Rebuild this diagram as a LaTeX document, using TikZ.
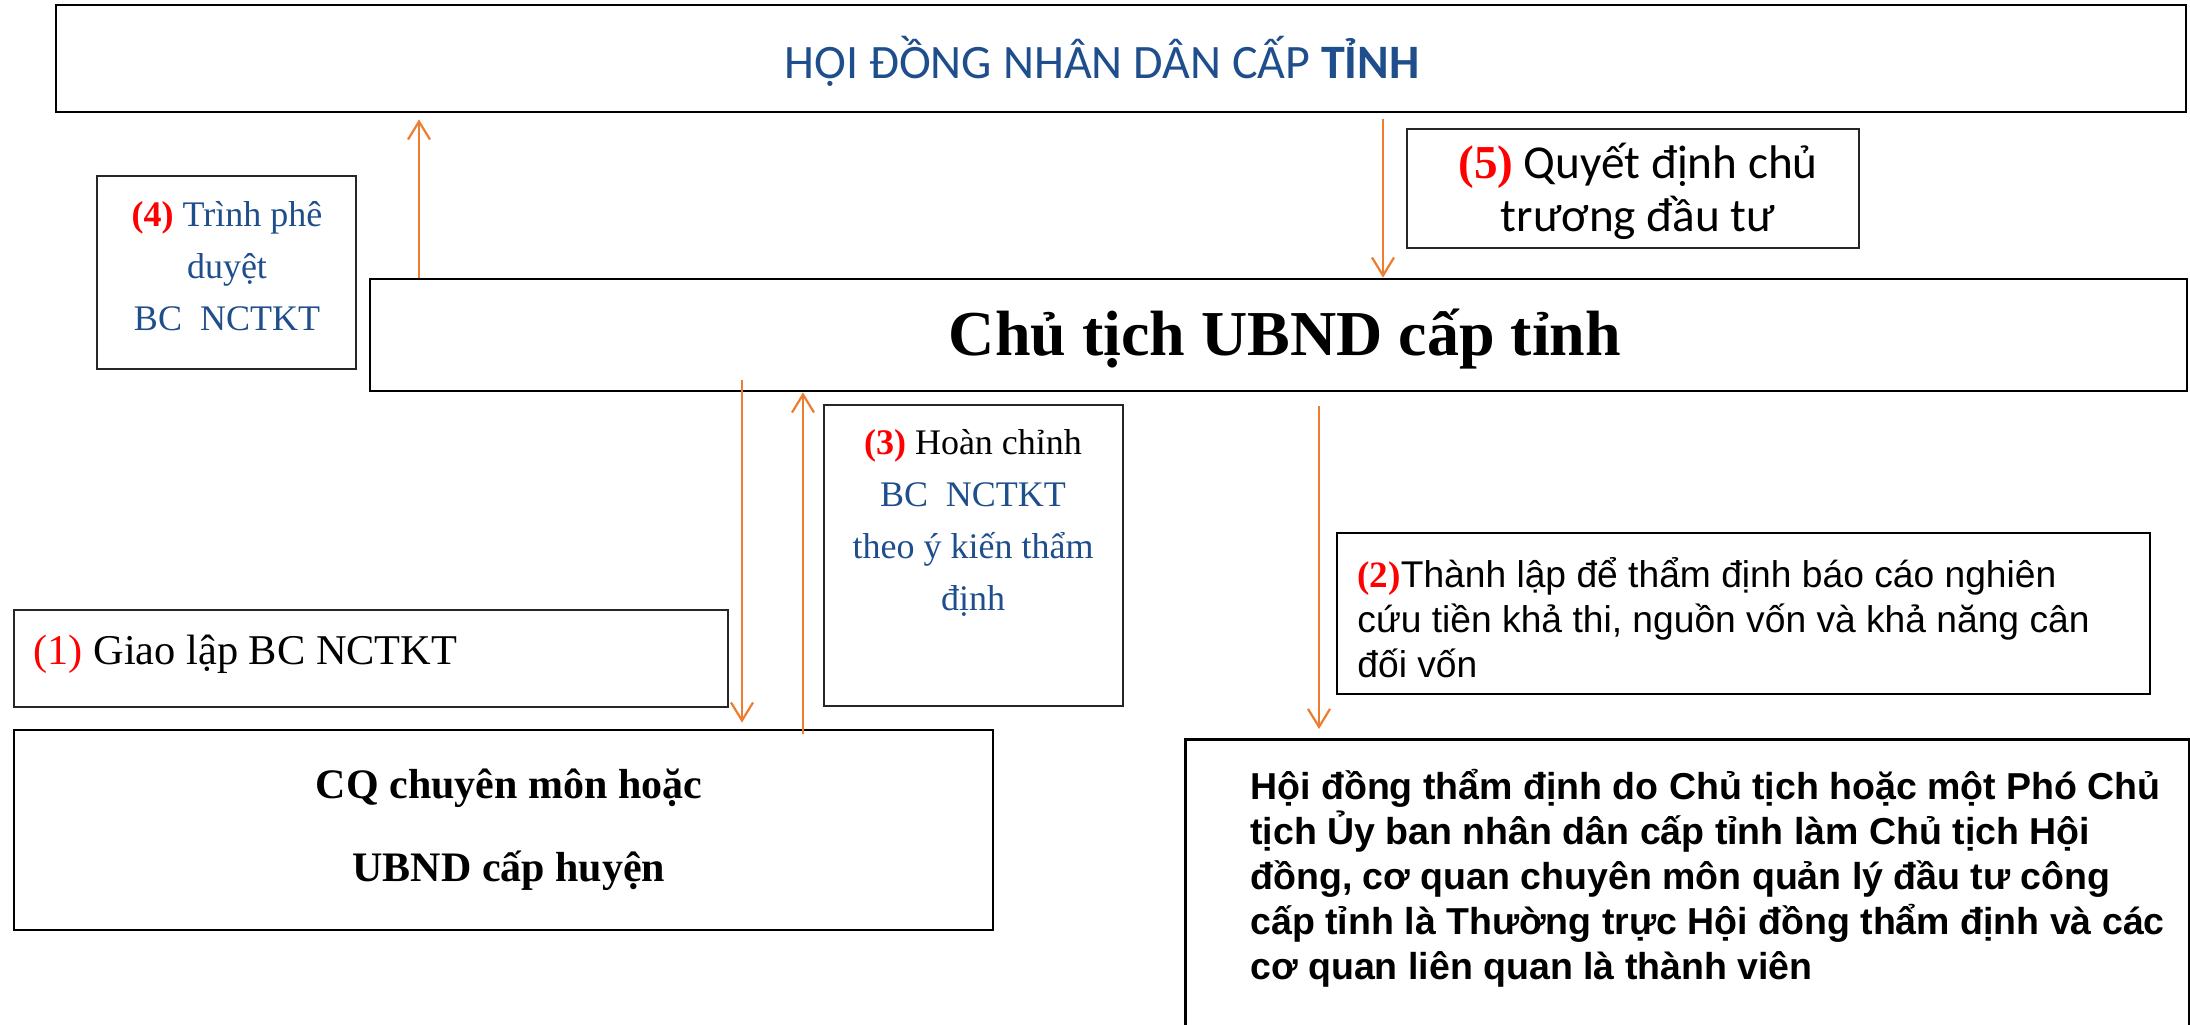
\documentclass[tikz,border=0pt]{standalone}
\usepackage{fontspec}
\setmainfont{Liberation Serif}
\newfontfamily\calfont{Carlito}
\newfontfamily\arifont{Liberation Sans}
\usetikzlibrary{arrows.meta}
\definecolor{tblue}{HTML}{1F4E8C}
\definecolor{tred}{HTML}{FF0000}
\definecolor{arrorange}{HTML}{ED7D31}
\begin{document}
\begin{tikzpicture}[x=0.5pt,y=-0.5pt,
 frame/.style={draw=black, line width=1.4pt, rectangle, inner sep=0pt},
 thinframe/.style={draw=black!85, line width=0.8pt, rectangle, inner sep=0pt},
 txt/.style={inner sep=0pt, align=center},
 conn/.style={draw=arrorange, line width=1.1pt, -{Straight Barb[length=9pt,width=11pt,line width=1.1pt]}},
]
\useasboundingbox (0,0) rectangle (2190,1024);
\fill[white] (0,0) rectangle (2190,1024);

% boxes
\node[frame, minimum width=1065pt, minimum height=53.5pt] (hdnd) at (1121,58.5) {};
\node[txt, font=\calfont\fontsize{24}{28}\selectfont, text=tblue] (hdndt) at (1102,61) {HỘI ĐỒNG NHÂN DÂN CẤP \textbf{TỈNH}};

\node[frame, minimum width=908.5pt, minimum height=56pt] (ct) at (1278.5,335) {};
\node[txt, font=\fontsize{32}{38}\selectfont\bfseries] (ctt) at (1285,339) {Chủ tịch UBND cấp tỉnh};

\node[thinframe, minimum width=129.5pt, minimum height=96.5pt] (b4) at (226.5,272.5) {};
\node[txt, font=\fontsize{18}{26}\selectfont, text=tblue] (b4t) at (227,266) {\textcolor{tred}{\textbf{(4)}} Trình phê\\duyệt\\BC\ \ NCTKT};

\node[thinframe, line width=1pt, minimum width=226pt, minimum height=59.5pt] (b5) at (1633,188.5) {};
\node[txt, font=\calfont\fontsize{23.6}{26.5}\selectfont] (b5t) at (1638,191) {{\rmfamily\bfseries\textcolor{tred}{(5)}} Quyết định chủ\\trương đầu tư};

\node[thinframe, minimum width=149.5pt, minimum height=150.5pt] (b3) at (973.5,555.5) {};
\node[txt, font=\fontsize{18}{26}\selectfont, text=tblue] (b3t) at (973,523) {\textcolor{tred}{\textbf{(3)}} \textcolor{black}{Hoàn chỉnh}\\BC\ \ NCTKT\\theo ý kiến thẩm\\định};

\node[thinframe, minimum width=357pt, minimum height=48.5pt] (b1) at (371,658.5) {};
\node[txt, anchor=west, font=\fontsize{21.2}{24}\selectfont] (b1t) at (33,654) {\textcolor{tred}{(1)} Giao lập BC NCTKT};

\node[frame, minimum width=489.5pt, minimum height=100pt] (cq) at (503.5,830) {};
\node[txt, font=\fontsize{21}{41.5}\selectfont\bfseries] (cqt) at (509,830) {CQ chuyên môn hoặc\\UBND cấp huyện};

\node[frame, line width=1.2pt, minimum width=406.5pt, minimum height=80.5pt] (b2) at (1743.5,613.5) {};
\node[txt, align=left, anchor=west, font=\arifont\fontsize{18.6}{22.5}\selectfont] (b2t) at (1357,618) {{\rmfamily\bfseries\textcolor{tred}{(2)}}Thành lập để thẩm định báo cáo nghiên\\cứu tiền khả thi, nguồn vốn và khả năng cân\\đối vốn};

\node[frame, minimum width=502pt, minimum height=148pt, anchor=north west] (big) at (1184,738) {};
\node[txt, align=left, anchor=west, font=\arifont\bfseries\fontsize{18.75}{22.5}\selectfont] (bigt) at (1250,878) {Hội đồng thẩm định do Chủ tịch hoặc một Phó Chủ\\tịch Ủy ban nhân dân cấp tỉnh làm Chủ tịch Hội\\đồng, cơ quan chuyên môn quản lý đầu tư công\\cấp tỉnh là Thường trực Hội đồng thẩm định và các\\cơ quan liên quan là thành viên};

% connector x positions
\coordinate (x4) at (419,0);
\coordinate (x5) at (1383,0);
\coordinate (x1) at (742,0);
\coordinate (x3) at (803,0);
\coordinate (x2) at (1319,0);

\draw[conn, shorten >=3pt] (ct.north -| x4) -- (hdnd.south -| x4);
\draw[conn, shorten <=3pt] (hdnd.south -| x5) -- (ct.north -| x5);
\draw[conn, shorten <=-6pt, shorten >=3pt] (ct.south -| x1) -- (cq.north -| x1);
\draw[conn, shorten <=-2.5pt] (cq.north -| x3) -- (ct.south -| x3);
\draw[conn, shorten <=7pt, shorten >=4.5pt] (ct.south -| x2) -- (big.north -| x2);
\end{tikzpicture}
\end{document}
